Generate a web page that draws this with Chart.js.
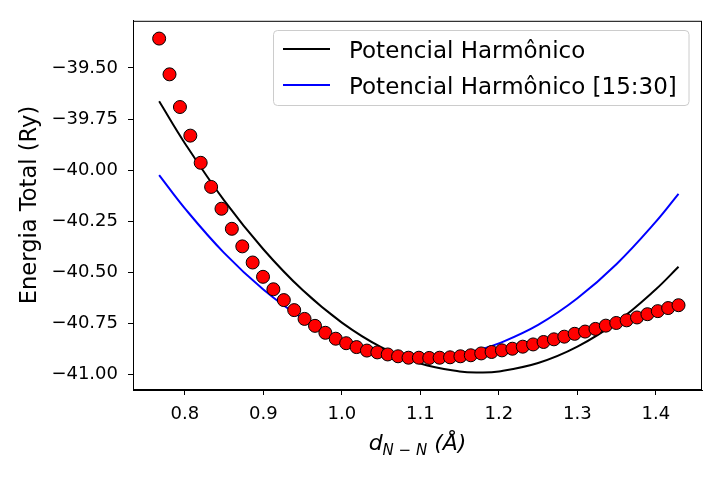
<!DOCTYPE html>
<html lang="pt">
<head>
    <meta charset="UTF-8">
    <title>Energia Total vs d N-N</title>
    <script src="https://cdn.jsdelivr.net/npm/chart.js@4.4.1/dist/chart.umd.min.js"></script>
    <style>
        html, body { margin: 0; padding: 0; background: #fff; }
        .wrap { width: 720px; height: 480px; }
    </style>
</head>
<body>
    <div class="wrap"><canvas id="chart"></canvas></div>
    <script>
        // N-N distance (Å) for each calculated point
        const distances = [
            0.7673, 0.7805, 0.7938, 0.8070, 0.8202, 0.8335, 0.8467, 0.8599, 0.8732, 0.8864,
            0.8996, 0.9128, 0.9261, 0.9393, 0.9525, 0.9658, 0.9790, 0.9922, 1.0055, 1.0187,
            1.0319, 1.0452, 1.0584, 1.0716, 1.0849, 1.0981, 1.1113, 1.1245, 1.1378, 1.1510,
            1.1642, 1.1775, 1.1907, 1.2039, 1.2172, 1.2304, 1.2436, 1.2569, 1.2701, 1.2833,
            1.2965, 1.3098, 1.3230, 1.3362, 1.3495, 1.3627, 1.3759, 1.3892, 1.4024, 1.4156,
            1.4288
        ];
        // total energy (Ry) for each distance
        const energies = [
            -39.356, -39.531, -39.691, -39.831, -39.964, -40.082, -40.189, -40.287, -40.373, -40.452,
            -40.522, -40.583, -40.636, -40.685, -40.728, -40.762, -40.796, -40.825, -40.847, -40.866,
            -40.883, -40.892, -40.902, -40.911, -40.918, -40.918, -40.919, -40.918, -40.916, -40.911,
            -40.906, -40.897, -40.890, -40.882, -40.874, -40.864, -40.853, -40.841, -40.828, -40.815,
            -40.801, -40.790, -40.777, -40.761, -40.748, -40.735, -40.721, -40.705, -40.690, -40.675,
            -40.661
        ];
        // harmonic curves read at these distances
        const fitDistances = [0.7673, 0.80, 0.85, 0.90, 0.95, 1.00, 1.05, 1.10, 1.15, 1.175, 1.20, 1.25, 1.30, 1.35, 1.40, 1.4288];
        const harmonicAll = [-39.663, -39.868, -40.148, -40.387, -40.587, -40.746, -40.866, -40.946, -40.985, -40.990, -40.985, -40.944, -40.864, -40.744, -40.583, -40.473];
        const harmonic1530 = [-40.024, -40.187, -40.405, -40.584, -40.725, -40.827, -40.890, -40.915, -40.901, -40.879, -40.848, -40.757, -40.627, -40.459, -40.252, -40.116];

        const xTicks = [0.8, 0.9, 1.0, 1.1, 1.2, 1.3, 1.4];
        const yTicks = [-39.5, -39.75, -40.0, -40.25, -40.5, -40.75, -41.0];

        const FONT = 'DejaVu Sans';

        const toPoints = (xs, ys) => xs.map((x, i) => ({ x: x, y: ys[i] }));

        // draws the box around the axes, the axis titles and the legend
        const decorations = {
            id: 'decorations',
            afterDraw(chart) {
                const ctx = chart.ctx;
                const a = chart.chartArea;
                ctx.save();

                // top and right spines
                ctx.strokeStyle = '#000';
                ctx.lineWidth = 1;
                ctx.strokeRect(a.left + 0.5, a.top + 0.5, a.right - a.left - 1, a.bottom - a.top - 1);

                // y title
                ctx.fillStyle = '#000';
                ctx.save();
                ctx.translate(36, 205);
                ctx.rotate(-Math.PI / 2);
                ctx.font = '22.6px ' + FONT;
                ctx.textAlign = 'center';
                ctx.textBaseline = 'alphabetic';
                ctx.fillText('Energia Total (Ry)', 0, 0);
                ctx.restore();

                // x title: d_{N - N} (Å)
                const big = 'italic 22px ' + FONT;
                const small = 'italic 15px ' + FONT;
                const parts = [
                    { t: 'd', f: big, dy: 0 },
                    { t: 'N − N', f: small, dy: 4.5 },
                    { t: ' (Å)', f: big, dy: 0 }
                ];
                let total = 0;
                parts.forEach(p => { ctx.font = p.f; p.w = ctx.measureText(p.t).width; total += p.w; });
                let x = (a.left + a.right) / 2 - total / 2;
                ctx.textAlign = 'left';
                parts.forEach(p => {
                    ctx.font = p.f;
                    ctx.fillText(p.t, x, 450 + p.dy);
                    x += p.w;
                });

                // legend
                const lx = 273.5, ly = 30.5, lw = 415.5, lh = 75, r = 4;
                ctx.beginPath();
                ctx.moveTo(lx + r, ly);
                ctx.arcTo(lx + lw, ly, lx + lw, ly + lh, r);
                ctx.arcTo(lx + lw, ly + lh, lx, ly + lh, r);
                ctx.arcTo(lx, ly + lh, lx, ly, r);
                ctx.arcTo(lx, ly, lx + lw, ly, r);
                ctx.closePath();
                ctx.fillStyle = 'rgba(255,255,255,0.8)';
                ctx.fill();
                ctx.strokeStyle = '#cccccc';
                ctx.stroke();

                const rows = chart.data.datasets.filter(d => d.showLine);
                rows.forEach((d, i) => {
                    const cy = 49 + i * 36;
                    ctx.beginPath();
                    ctx.moveTo(283, cy);
                    ctx.lineTo(330, cy);
                    ctx.strokeStyle = d.borderColor;
                    ctx.lineWidth = 2;
                    ctx.stroke();
                    ctx.fillStyle = '#000';
                    ctx.font = '23px ' + FONT;
                    ctx.textAlign = 'left';
                    ctx.textBaseline = 'alphabetic';
                    ctx.fillText(d.label, 349, cy + 8.5);
                });

                ctx.restore();
            }
        };

        const tickFmtY = v => v.toFixed(2).replace('-', '−');

        new Chart(document.getElementById('chart'), {
            type: 'scatter',
            data: {
                datasets: [
                    {
                        label: 'Dados',
                        data: toPoints(distances, energies),
                        pointRadius: 6.5,
                        pointHoverRadius: 6.5,
                        pointBackgroundColor: '#ff0000',
                        pointBorderColor: '#000000',
                        pointBorderWidth: 1,
                        showLine: false,
                        order: 0
                    },
                    {
                        label: 'Potencial Harmônico',
                        data: toPoints(fitDistances, harmonicAll),
                        showLine: true,
                        borderColor: '#000000',
                        borderWidth: 2,
                        pointRadius: 0,
                        tension: 0.4,
                        order: 2
                    },
                    {
                        label: 'Potencial Harmônico [15:30]',
                        data: toPoints(fitDistances, harmonic1530),
                        showLine: true,
                        borderColor: '#0000ff',
                        borderWidth: 2,
                        pointRadius: 0,
                        tension: 0.4,
                        order: 1
                    }
                ]
            },
            options: {
                responsive: true,
                maintainAspectRatio: false,
                animation: false,
                layout: { padding: { top: 17, right: 18, left: 0, bottom: 0 } },
                plugins: {
                    legend: { display: false },
                    tooltip: { enabled: false }
                },
                scales: {
                    x: {
                        type: 'linear',
                        min: 0.734,
                        max: 1.4587,
                        afterBuildTicks: s => { s.ticks = xTicks.map(v => ({ value: v })); },
                        afterFit: s => { s.height = 90; },
                        ticks: {
                            color: '#000',
                            font: { family: FONT, size: 18 },
                            padding: 9,
                            maxRotation: 0,
                            callback: v => v.toFixed(1)
                        },
                        grid: { drawOnChartArea: false, drawTicks: true, tickLength: 5, tickColor: '#000', tickWidth: 1 },
                        border: { display: true, color: '#000', width: 1 }
                    },
                    y: {
                        type: 'linear',
                        min: -41.076,
                        max: -39.269,
                        afterBuildTicks: s => { s.ticks = yTicks.map(v => ({ value: v })); },
                        afterFit: s => { s.width = 133; },
                        ticks: {
                            color: '#000',
                            font: { family: FONT, size: 18 },
                            padding: 10,
                            callback: tickFmtY
                        },
                        grid: { drawOnChartArea: false, drawTicks: true, tickLength: 5, tickColor: '#000', tickWidth: 1 },
                        border: { display: true, color: '#000', width: 1 }
                    }
                }
            },
            plugins: [decorations]
        });
    </script>
</body>
</html>
